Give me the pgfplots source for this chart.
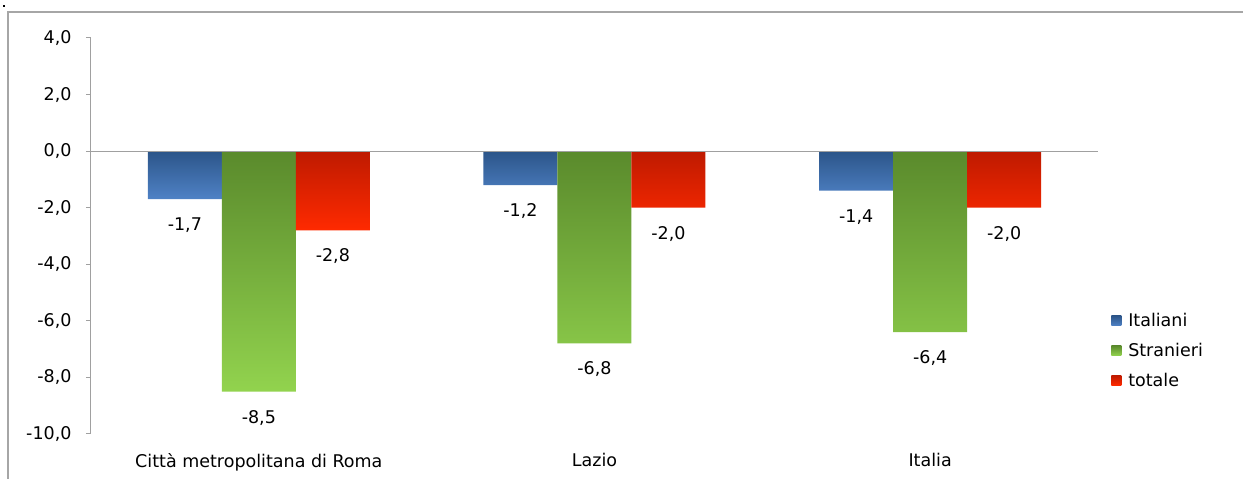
\documentclass[border=0pt]{standalone}
\usepackage{fontspec}
\setmainfont{DejaVu Sans}
\usepackage{pgfplots}
\pgfplotsset{compat=1.18}
\definecolor{bluetop}{HTML}{2C5589}
\definecolor{bluebot}{HTML}{4F82C6}
\definecolor{greentop}{HTML}{5A8A2C}
\definecolor{greenbot}{HTML}{92D34E}
\definecolor{redtop}{HTML}{BE1A00}
\definecolor{redbot}{HTML}{FF2A00}
\definecolor{framec}{HTML}{A6A6A6}
\definecolor{axisc}{HTML}{A0A0A0}
\newcommand{\cf}{\fontsize{17.5}{20}\selectfont}
\begin{document}
\begin{tikzpicture}
\useasboundingbox (0,0) rectangle (1243pt,479pt);
\draw[framec, line width=1.5pt] (8pt,0) -- (8pt,467pt) -- (1243pt,467pt);
\fill[black] (3pt,472pt) rectangle (5pt,474pt);
\begin{axis}[
 at={(91pt,45pt)}, anchor=south west,
 scale only axis, width=1007pt, height=396pt,
 xmin=-0.5, xmax=2.5, ymin=-10, ymax=4,
 ybar=0pt, bar width=74pt,
 axis y line*=left, axis x line*=bottom,
 x axis line style={draw=none},
 y axis line style={draw=axisc, line width=1pt},
 xtick={0,1,2},
 xticklabels={Città metropolitana di Roma, Lazio, Italia},
 xtick style={draw=none},
 x tick label style={font=\cf, yshift=-11pt},
 ytick={-10,-8,...,4},
 ytick style={draw=axisc, line width=1pt},
 tick align=outside, major tick length=5pt,
 y tick label style={font=\cf, xshift=-11pt},
 /pgf/number format/.cd, fixed, fixed zerofill, precision=1, use comma, assume math mode=true,
 /pgfplots/.cd,
 nodes near coords,
 every node near coord/.append style={font=\cf, text=black, anchor=center, yshift=-26pt},
 legend style={at={(1.010,0.315)}, anchor=north west, draw=none, fill=none, font=\cf, row sep=11pt,
   nodes={inner xsep=7pt}},
 legend cell align=left,
 legend image code/.code={\path[#1] (3pt,-5pt) rectangle (13pt,5pt);},
]
\addplot[draw=none, top color=bluetop, bottom color=bluebot] coordinates {(0,-1.7) (1,-1.2) (2,-1.4)};
\addplot[draw=none, top color=greentop, bottom color=greenbot] coordinates {(0,-8.5) (1,-6.8) (2,-6.4)};
\addplot[draw=none, top color=redtop, bottom color=redbot] coordinates {(0,-2.8) (1,-2.0) (2,-2.0)};
\legend{Italiani, Stranieri, totale}
\draw[axisc, line width=1pt] (axis cs:-0.5,0) -- (axis cs:2.5,0);
\end{axis}
\end{tikzpicture}
\end{document}
